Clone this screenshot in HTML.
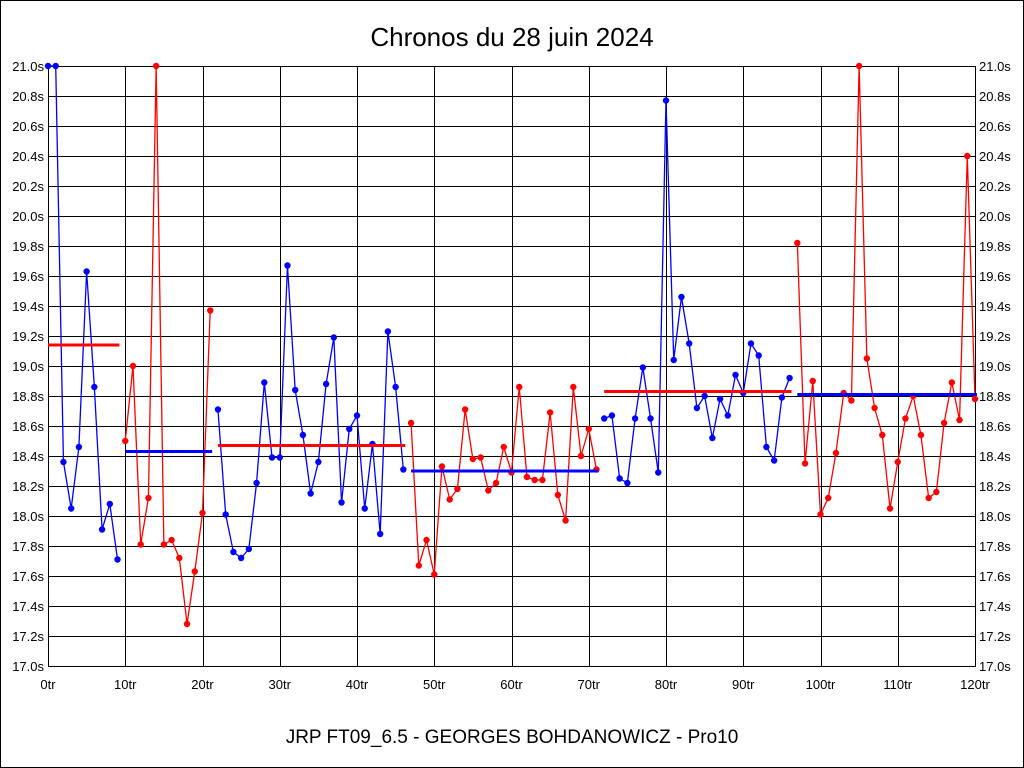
<!DOCTYPE html>
<html><head><meta charset="utf-8"><style>
body{margin:0;background:#fff}
svg{display:block;font-family:"Liberation Sans",sans-serif}
</style></head><body>
<svg id="c" width="1024" height="768">
<rect x="0.5" y="0.5" width="1023" height="767" fill="#fff" stroke="#000"/>
<text x="512" y="46" font-size="26" text-anchor="middle">Chronos du 28 juin 2024</text>
<text x="512" y="743" font-size="19" text-anchor="middle">JRP FT09_6.5 - GEORGES BOHDANOWICZ - Pro10</text>
<g id="grid" shape-rendering="crispEdges"></g><g id="marks"></g>
</svg>
<script>
const segStarts=[0,10,22,47,72,97];
const segColors=["blue","red","blue","red","blue","red"];
const segMeans=[19.14,18.43,18.47,18.30,18.83,18.81];
const lapTimes=[21.0,21.0,18.36,18.05,18.46,19.63,18.86,17.91,18.08,17.71,
18.50,19.0,17.81,18.12,21.0,17.81,17.84,17.72,17.28,17.63,18.02,19.37,
18.71,18.01,17.76,17.72,17.78,18.22,18.89,18.39,18.39,19.67,18.84,18.54,18.15,18.36,18.88,19.19,18.09,18.58,18.67,18.05,18.48,17.88,19.23,18.86,18.31,
18.62,17.67,17.84,17.61,18.33,18.11,18.18,18.71,18.38,18.39,18.17,18.22,18.46,18.29,18.86,18.26,18.24,18.24,18.69,18.14,17.97,18.86,18.40,18.58,18.31,
18.65,18.67,18.25,18.22,18.65,18.99,18.65,18.29,20.77,19.04,19.46,19.15,18.72,18.80,18.52,18.78,18.67,18.94,18.82,19.15,19.07,18.46,18.37,18.79,18.92,
19.82,18.35,18.90,18.01,18.12,18.42,18.82,18.77,21.0,19.05,18.72,18.54,18.05,18.36,18.65,18.80,18.54,18.12,18.16,18.62,18.89,18.64,20.40,18.78];
const xTicks=[0,10,20,30,40,50,60,70,80,90,100,110,120];
const yTicks=[17.0,17.2,17.4,17.6,17.8,18.0,18.2,18.4,18.6,18.8,19.0,19.2,19.4,19.6,19.8,20.0,20.2,20.4,20.6,20.8,21.0];
const L=48,R=975,T=66,B=666,xMin=0,xMax=120,yMin=17,yMax=21;
const X=v=>L+(v-xMin)/(xMax-xMin)*(R-L);
const Y=v=>B-(v-yMin)/(yMax-yMin)*(B-T);
const NS="http://www.w3.org/2000/svg";
function mk(tag,attrs,parent,text){const e=document.createElementNS(NS,tag);for(const k in attrs)e.setAttribute(k,attrs[k]);if(text!=null)e.textContent=text;parent.appendChild(e);return e;}
const g=document.getElementById('grid'),m=document.getElementById('marks');
yTicks.forEach(t=>{
 const yy=Math.round(Y(t))+0.5;
 const l=mk('line',{x1:L,x2:R+1,y1:yy,y2:yy,stroke:'#000','stroke-width':1},g);
 
 
 const a=mk('text',{x:L-4,y:Y(t)+5,'font-size':13,'text-anchor':'end'},g,t.toFixed(1)+'s');
 
 
 const b=mk('text',{x:R+4,y:Y(t)+5,'font-size':13},g,t.toFixed(1)+'s');
 
 
});
xTicks.forEach(t=>{
 const xx=Math.round(X(t))+0.5;
 const l=mk('line',{x1:xx,x2:xx,y1:T,y2:B+1,stroke:'#000','stroke-width':1},g);
 
 
 const a=mk('text',{x:X(t),y:B+23,'font-size':13,'text-anchor':'middle'},g,t+'tr');
 
 
});
segStarts.forEach((s,i)=>{
 const e=(i+1<segStarts.length?segStarts[i+1]:lapTimes.length)-1;
 const col=segColors[i];
 let pts=[];
 for(let k=s;k<=e;k++)pts.push(X(k)+','+Y(lapTimes[k]));
 const pl=mk('polyline',{points:pts.join(' '),fill:'none',stroke:col,'stroke-width':1.3},m);
 
 
 for(let k=s;k<=e;k++){
  const c=mk('circle',{cx:X(k),cy:Y(lapTimes[k]),r:3.2,fill:col},m);
  
  
 }
 const ml=mk('line',{x1:X(s),x2:X(e+0.25),y1:Y(segMeans[i]),y2:Y(segMeans[i]),stroke:col==='blue'?'red':'blue','stroke-width':3},m);
 
 
});
</script>
</body></html>
